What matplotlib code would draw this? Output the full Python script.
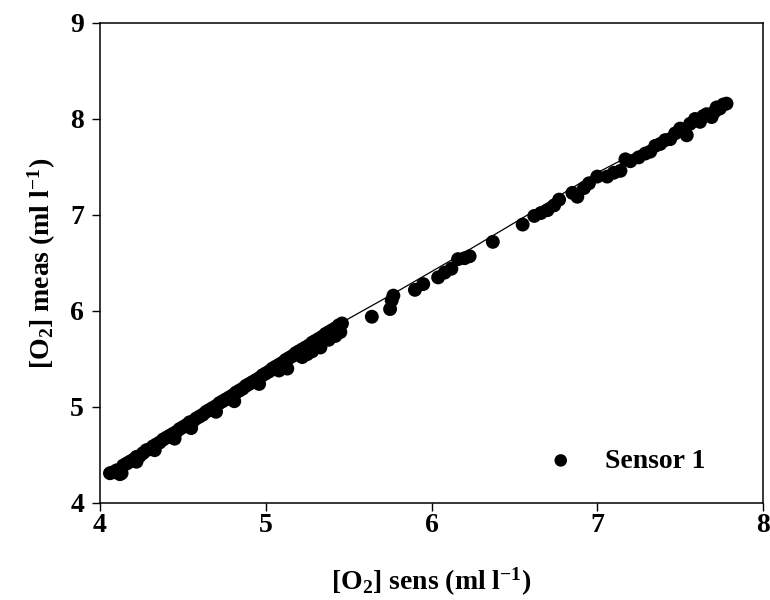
import matplotlib
matplotlib.use("Agg")
import matplotlib.pyplot as plt

plt.rcParams.update({
    "font.family": "Liberation Serif",
    "font.weight": "bold",
    "axes.labelweight": "bold",
    "mathtext.fontset": "custom",
    "mathtext.rm": "Liberation Serif:bold",
    "mathtext.it": "Liberation Serif:bold",
    "mathtext.bf": "Liberation Serif:bold",
    "mathtext.default": "rm",
})

# Sensor 1 readings: sensor value (x) vs measured value (y), ml/l
sens = [4.06, 4.08, 4.10, 4.12, 4.14, 4.16, 4.18, 4.20, 4.22, 4.24, 4.26, 4.28,
        4.30, 4.32, 4.34, 4.36, 4.38, 4.40, 4.42, 4.44, 4.46, 4.48, 4.50, 4.52,
        4.54, 4.56, 4.58, 4.60, 4.62, 4.64, 4.66, 4.68, 4.70, 4.72, 4.74, 4.76,
        4.78, 4.80, 4.82, 4.84, 4.86, 4.88, 4.90, 4.92, 4.94, 4.96, 4.98, 5.00,
        5.02, 5.04, 5.06, 5.08, 5.10, 5.12, 5.14, 5.16, 5.18, 5.20, 5.22, 5.24,
        5.26, 5.28, 5.30, 5.32, 5.34, 5.36, 5.38, 5.40, 5.42, 5.44, 5.46,
        4.13, 4.22, 4.33, 4.45, 4.55, 4.70, 4.81, 4.96, 5.08, 5.13, 5.22, 5.25,
        5.28, 5.33, 5.38, 5.42, 5.45,
        5.64, 5.75, 5.76, 5.77, 5.90, 5.95, 6.04, 6.08, 6.12, 6.16, 6.20, 6.23,
        6.37, 6.55, 6.62, 6.66, 6.70, 6.74, 6.77, 6.85, 6.88, 6.92, 6.95, 7.00,
        7.06, 7.10, 7.14, 7.17, 7.20, 7.25, 7.29, 7.32, 7.35, 7.38, 7.41, 7.44,
        7.47, 7.50, 7.52, 7.54, 7.56, 7.59, 7.62, 7.64, 7.66, 7.69, 7.71, 7.72,
        7.74, 7.76, 7.78]
meas = [4.31, 4.32, 4.34, 4.30, 4.39, 4.41, 4.43, 4.45, 4.48, 4.49, 4.52, 4.55,
        4.56, 4.59, 4.61, 4.63, 4.66, 4.68, 4.70, 4.72, 4.74, 4.77, 4.79, 4.81,
        4.84, 4.85, 4.88, 4.90, 4.92, 4.95, 4.97, 4.99, 5.01, 5.04, 5.06, 5.08,
        5.10, 5.12, 5.15, 5.17, 5.19, 5.22, 5.24, 5.26, 5.28, 5.30, 5.33, 5.35,
        5.37, 5.40, 5.42, 5.44, 5.46, 5.49, 5.51, 5.53, 5.56, 5.58, 5.60, 5.62,
        5.64, 5.67, 5.69, 5.71, 5.73, 5.76, 5.78, 5.80, 5.82, 5.85, 5.87,
        4.31, 4.43, 4.55, 4.67, 4.78, 4.95, 5.06, 5.24, 5.38, 5.40, 5.52, 5.55,
        5.58, 5.62, 5.70, 5.74, 5.78,
        5.94, 6.02, 6.11, 6.16, 6.22, 6.28, 6.35, 6.40, 6.44, 6.54, 6.55, 6.57,
        6.72, 6.90, 6.99, 7.02, 7.05, 7.10, 7.16, 7.23, 7.19, 7.28, 7.33, 7.40,
        7.40, 7.44, 7.46, 7.58, 7.56, 7.60, 7.64, 7.66, 7.72, 7.74, 7.78, 7.79,
        7.85, 7.90, 7.88, 7.83, 7.95, 8.00, 7.97, 8.03, 8.05, 8.02, 8.08, 8.12,
        8.11, 8.15, 8.16]

# fitted line
fit_x = [4.07, 4.50, 5.00, 5.50, 5.80, 6.20, 6.56, 7.00, 7.40, 7.78]
fit_y = [4.33, 4.82, 5.37, 5.92, 6.21, 6.61, 6.98, 7.44, 7.80, 8.18]

xticks = [4, 5, 6, 7, 8]
yticks = [4, 5, 6, 7, 8, 9]

fig = plt.figure(figsize=(7.7, 6), dpi=100)
ax = fig.add_axes([0.1299, 0.1617, 0.8610, 0.8000])

ax.plot(fit_x, fit_y, color="black", lw=0.9, zorder=2)
ax.scatter(sens, meas, s=100, color="black", edgecolors="none", zorder=3,
           label="Sensor 1")

ax.set_xlim(4, 8)
ax.set_ylim(4, 9)
ax.set_xticks(xticks)
ax.set_yticks(yticks)
ax.tick_params(axis="x", direction="out", length=5.5, width=1, labelsize=20,
               pad=2, top=False)
ax.tick_params(axis="y", direction="out", length=5.5, width=1, labelsize=20,
               pad=6, right=False)
for sp in ax.spines.values():
    sp.set_linewidth(1.1)

ax.set_xlabel(r"[O$_2$] sens (ml l$^{-1}$)", fontsize=20, labelpad=20)
ax.set_ylabel(r"[O$_2$] meas (ml l$^{-1}$)", fontsize=20, labelpad=9)

ax.legend(loc="center left", bbox_to_anchor=(0.674, 0.0875), frameon=False,
          fontsize=20, handlelength=1.0, handletextpad=1.1, borderpad=0,
          borderaxespad=0, scatterpoints=1, markerscale=0.9)

fig.savefig("out.png", dpi=100)
